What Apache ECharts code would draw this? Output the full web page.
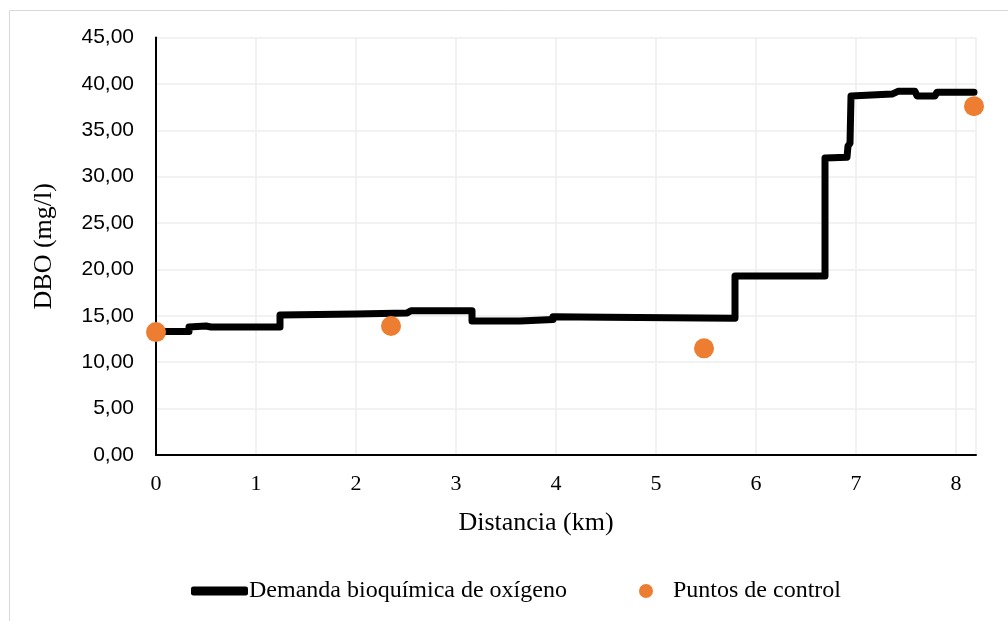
<!DOCTYPE html>
<html>
<head>
<meta charset="utf-8">
<script src="https://cdn.jsdelivr.net/npm/echarts@6/dist/echarts.min.js"></script>
<style>
html,body{margin:0;padding:0;background:#fff;}
#c{width:1008px;height:621px;}
</style>
</head>
<body>
<div id="c"></div>
<script>
// Line vertices (km, mg/l) of the stepped DBO profile
const lineX = [0, 0.33, 0.33, 0.5, 0.55, 1.24, 1.24, 2.0, 2.51, 2.55, 3.16, 3.16, 3.64, 3.64, 3.97, 3.97, 4.5, 5.79, 5.79, 6.69, 6.69, 6.91, 6.92, 6.94, 6.95, 7.36, 7.42, 7.59, 7.61, 7.79, 7.81, 8.18];
const lineY = [13.3, 13.3, 13.8, 13.9, 13.8, 13.8, 15.1, 15.2, 15.3, 15.55, 15.55, 14.45, 14.45, 14.6, 14.6, 14.9, 14.85, 14.75, 19.3, 19.3, 32.0, 32.1, 33.3, 33.6, 38.7, 38.9, 39.2, 39.2, 38.7, 38.7, 39.1, 39.1];
// Control points
const ctrlX = [0, 2.35, 5.48, 8.18];
const ctrlY = [13.25, 13.9, 11.5, 37.6];
const xTicks = [0, 1, 2, 3, 4, 5, 6, 7, 8];
const seriesNames = ['Demanda bioquímica de oxígeno', 'Puntos de control'];

const chart = echarts.init(document.getElementById('c'), null, {renderer: 'canvas'});
const lineData = lineX.map((x, i) => [x, lineY[i]]);
const ctrlData = ctrlX.map((x, i) => [x, ctrlY[i]]);
const serif = "'Liberation Serif', 'Times New Roman', serif";
const sans = "'Liberation Sans', Arial, sans-serif";

chart.setOption({
  animation: false,
  backgroundColor: '#fff',
  graphic: [{
    type: 'rect', left: 7, top: 8, silent: true,
    shape: {width: 1010, height: 620},
    style: {fill: 'none', stroke: '#d9d9d9', lineWidth: 1}
  }],
  grid: {left: 156, right: 32, top: 37.5, bottom: 166, containLabel: false},
  xAxis: {
    type: 'value', min: 0, max: 8.2, interval: 1,
    name: 'Distancia (km)', nameLocation: 'middle', nameGap: 55,
    nameTextStyle: {fontFamily: serif, fontSize: 26, color: '#000', padding: [0, 60, 0, 0]},
    axisLine: {show: true, lineStyle: {color: '#000', width: 2}},
    axisTick: {show: false},
    axisLabel: {fontFamily: serif, fontSize: 22, color: '#000', margin: 18, showMaxLabel: false,
      formatter: v => xTicks.includes(v) ? String(v) : ''},
    splitLine: {show: true, lineStyle: {color: '#eeeeee', width: 1.5}}
  },
  yAxis: {
    type: 'value', min: 0, max: 45, interval: 5,
    name: 'DBO (mg/l)', nameLocation: 'middle', nameGap: 99,
    nameTextStyle: {fontFamily: serif, fontSize: 26, color: '#000'},
    axisLine: {show: true, lineStyle: {color: '#000', width: 2}},
    axisTick: {show: false},
    axisLabel: {fontFamily: sans, fontSize: 21, color: '#000', margin: 22,
      formatter: v => v.toFixed(2).replace('.', ',')},
    splitLine: {show: true, lineStyle: {color: '#eeeeee', width: 1.5}}
  },
  legend: [{
    data: [{name: seriesNames[0], icon: 'roundRect'}],
    left: 186, top: 574, itemWidth: 57, itemHeight: 9, itemGap: 0,
    textStyle: {fontFamily: serif, fontSize: 24, color: '#000', padding: [0, 0, 0, -4]}
  }, {
    data: [{name: seriesNames[1], icon: 'circle'}],
    left: 634, top: 574, itemWidth: 44, itemHeight: 14,
    textStyle: {fontFamily: serif, fontSize: 24, color: '#000'}
  }],
  series: [{
    name: seriesNames[0], type: 'line', data: lineData, showSymbol: false, symbol: 'none',
    lineStyle: {color: '#000', width: 7, cap: 'round', join: 'round'},
    itemStyle: {color: '#000'}, z: 2
  }, {
    name: seriesNames[1], type: 'scatter', data: ctrlData, symbolSize: 20,
    itemStyle: {color: '#ED7D31', opacity: 1}, z: 3
  }]
});
</script>
</body>
</html>
